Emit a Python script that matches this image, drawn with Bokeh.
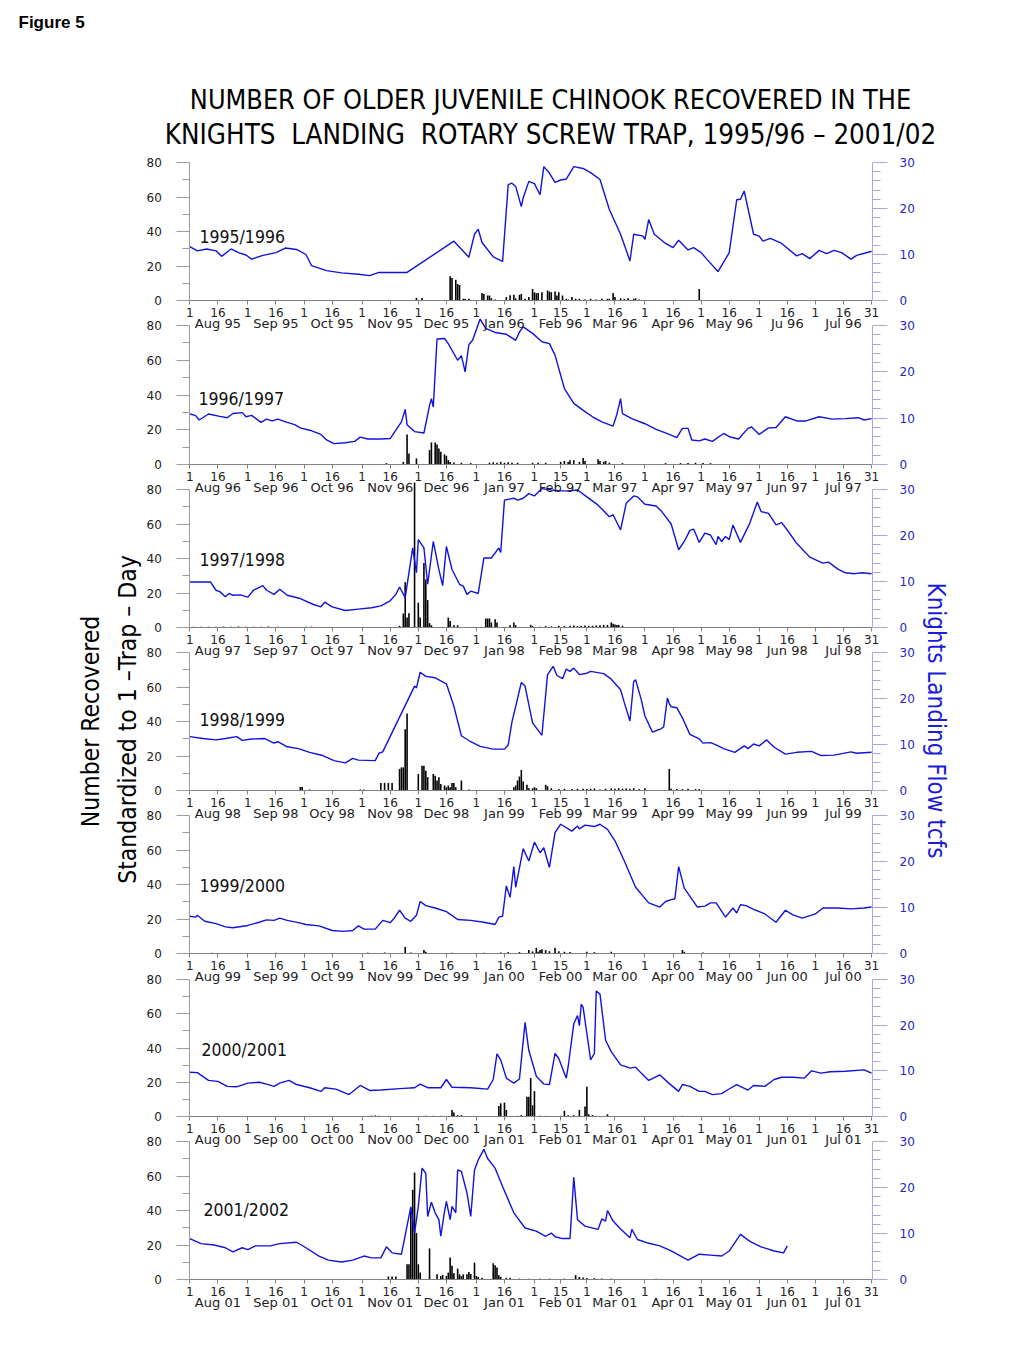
import math
from bokeh.plotting import figure
from bokeh.models import Range1d, LinearAxis, FixedTicker, Label
from bokeh.embed import file_html
from bokeh.resources import INLINE

# ---------------- data (day counted from Aug 1) ----------------
seasons = ["1995/1996", "1996/1997", "1997/1998", "1998/1999", "1999/2000", "2000/2001", "2001/2002"]

tick_days = [0, 15, 31, 46, 61, 76, 92, 107, 122, 137, 153, 168, 184, 198, 212, 227, 243, 258, 273, 288, 304, 319, 334, 349, 364]
tick_text = ["1", "16", "1", "16", "1", "16", "1", "16", "1", "16", "1", "16", "1", "15", "1", "16", "1", "16", "1", "16", "1", "16", "1", "16", "31"]
month_days = [15, 46, 76, 107, 137, 168, 198, 227, 258, 288, 319, 349]

months_9596 = ["Aug 95", "Sep 95", "Oct 95", "Nov 95", "Dec 95", "Jan 96", "Feb 96", "Mar 96", "Apr 96", "May 96", "Ju 96", "Jul 96"]
months_9697 = ["Aug 96", "Sep 96", "Oct 96", "Nov 96", "Dec 96", "Jan 97", "Feb 97", "Mar 97", "Apr 97", "May 97", "Jun 97", "Jul 97"]
months_9798 = ["Aug 97", "Sep 97", "Oct 97", "Nov 97", "Dec 97", "Jan 98", "Feb 98", "Mar 98", "Apr 98", "May 98", "Jun 98", "Jul 98"]
months_9899 = ["Aug 98", "Sep 98", "Ocy 98", "Nov 98", "Dec 98", "Jan 99", "Feb 99", "Mar 99", "Apr 99", "May 99", "Jun 99", "Jul 99"]
months_9900 = ["Aug 99", "Sep 99", "Oct 99", "Nov 99", "Dec 99", "Jan 00", "Feb 00", "Mar 00", "Apr 00", "May 00", "Jun 00", "Jul 00"]
months_0001 = ["Aug 00", "Sep 00", "Oct 00", "Nov 00", "Dec 00", "Jan 01", "Feb 01", "Mar 01", "Apr 01", "May 01", "Jun 01", "Jul 01"]
months_0102 = ["Aug 01", "Sep 01", "Oct 01", "Nov 01", "Dec 01", "Jan 01", "Feb 01", "Mar 01", "Apr 01", "May 01", "Jun 01", "Jul 01"]

# flow (thousand cfs): (day, flow)
flow_9596 = [(0,11.7),(4,10.8),(9,11.2),(14,10.8),(17,9.6),(22,11.2),(26,10.4),(30,9.9),(33,9.0),(39,9.8),(46,10.4),(51,11.4),(57,11.1),(62,10.0),(65,7.6),(73,6.5),(81,6.0),(90,5.7),(96,5.4),(101,6.1),(116,6.1),(141,12.9),(149,9.4),(152,14.4),(154,15.5),(156,12.6),(162,9.5),(167,8.5),(170,25.2),(172,25.5),(174,24.8),(177,20.4),(178,22.3),(181,25.9),(184,25.4),(187,23.0),(189,29.1),(192,27.7),(195,25.7),(198,26.2),(201,26.4),(205,29.1),(210,28.7),(214,27.8),(219,26.3),(224,19.8),(230,14.4),(235,8.6),(237,14.4),(242,14.0),(243,13.3),(245,17.6),(248,14.4),(254,12.4),(258,11.5),(261,13.1),(266,11.0),(269,11.5),(273,10.4),(276,9.0),(282,6.3),(288,10.4),(292,21.9),(294,22.0),(296,23.8),(301,14.4),(304,14.0),(306,12.9),(310,13.5),(316,12.4),(324,9.7),(327,10.2),(331,9.1),(336,10.9),(340,10.2),(344,10.9),(348,10.4),(353,9.0),(356,9.8),(364,10.7)]
flow_9697 = [(0,10.9),(3,10.6),(5,9.6),(10,10.9),(16,10.4),(20,10.1),(23,11.0),(28,11.2),(30,10.3),(33,10.6),(38,9.1),(41,9.8),(44,9.4),(47,9.8),(52,9.1),(56,8.6),(59,7.9),(64,7.4),(70,6.5),(73,5.3),(77,4.5),(83,4.7),(88,5.0),(91,5.9),(95,5.5),(102,5.5),(107,5.6),(110,7.4),(113,9.2),(115,11.9),(116,8.6),(120,7.1),(125,6.8),(128,12.7),(129,14.2),(130,12.4),(132,27.1),(136,27.2),(138,26.1),(143,22.5),(145,23.5),(147,20.0),(149,25.9),(151,26.8),(155,31.4),(158,29.4),(163,28.5),(169,28.1),(174,26.8),(176,28.6),(178,29.7),(183,28.3),(188,26.5),(192,26.1),(195,23.6),(200,16.4),(205,13.2),(211,11.4),(215,10.3),(220,9.2),(226,8.3),(228,10.8),(230,14.2),(231,11.0),(236,9.9),(243,8.8),(249,7.6),(256,6.5),(260,5.8),(263,7.8),(266,7.8),(268,5.3),(272,5.1),(275,5.5),(279,5.0),(285,6.7),(288,6.0),(293,5.5),(298,7.8),(300,8.1),(304,6.5),(309,7.9),(313,8.0),(318,10.3),(324,9.4),(329,9.4),(336,10.3),(343,9.8),(350,9.9),(357,10.1),(360,9.6),(364,9.9)]
flow_9798 = [(0,9.9),(11,9.9),(14,8.1),(16,7.8),(19,6.7),(21,7.4),(23,7.0),(27,7.1),(31,6.6),(34,8.1),(39,9.1),(41,8.1),(45,7.2),(48,8.3),(52,7.0),(59,6.3),(66,5.0),(70,4.5),(72,5.5),(76,4.5),(83,3.7),(90,4.0),(97,4.3),(102,4.7),(107,5.8),(110,7.2),(112,8.8),(115,6.5),(119,17.3),(121,11.9),(122,19.1),(125,17.3),(127,9.4),(130,18.7),(133,12.6),(135,9.1),(137,17.6),(140,12.6),(144,9.4),(146,9.0),(148,7.2),(150,7.9),(154,7.4),(157,15.1),(161,15.1),(165,17.3),(166,16.3),(168,27.7),(173,28.1),(175,27.7),(178,28.1),(181,29.1),(184,28.6),(188,30.2),(193,29.9),(198,29.7),(202,29.7),(207,29.9),(212,28.4),(218,26.6),(224,24.1),(226,24.5),(230,21.2),(233,27.0),(237,28.6),(239,28.4),(243,26.8),(249,26.4),(252,25.2),(257,22.5),(261,16.9),(264,18.7),(267,21.1),(269,21.4),(272,18.5),(275,20.5),(278,20.1),(281,18.0),(282,19.8),(284,18.7),(286,19.8),(288,19.1),(290,22.3),(294,18.5),(299,22.7),(303,27.3),(305,25.2),(309,24.8),(313,22.3),(316,22.8),(319,21.2),(324,18.3),(331,15.3),(338,14.0),(341,14.2),(346,12.7),(350,11.9),(355,11.7),(359,11.9),(364,11.7)]
flow_9899 = [(0,11.7),(7,11.3),(14,11.0),(19,11.3),(25,11.7),(28,10.9),(33,11.2),(40,11.3),(45,10.3),(47,10.6),(52,9.5),(58,9.1),(64,8.3),(71,7.6),(77,6.5),(83,6.0),(87,7.0),(90,6.6),(99,6.5),(101,8.1),(103,8.4),(120,22.7),(121,22.3),(123,25.7),(126,24.8),(131,24.5),(136,23.4),(137,23.2),(141,18.3),(145,11.9),(150,10.6),(155,9.6),(162,9.0),(168,9.0),(170,9.9),(172,14.9),(174,18.3),(177,23.5),(179,22.7),(183,14.7),(188,12.0),(191,25.2),(194,27.0),(196,25.0),(199,24.3),(201,26.4),(203,25.9),(205,26.6),(208,25.2),(212,25.5),(214,25.9),(221,25.4),(225,24.2),(230,21.9),(232,19.1),(235,15.1),(237,23.7),(238,24.1),(241,19.8),(243,16.2),(247,12.7),(250,13.2),(251,13.3),(253,13.8),(255,20.1),(256,18.9),(257,18.2),(260,18.0),(263,15.8),(267,12.2),(272,11.2),(274,10.3),(278,10.4),(281,9.9),(285,9.1),(291,8.3),(296,9.7),(298,9.1),(301,10.1),(304,9.7),(308,11.0),(312,9.4),(318,7.9),(324,8.3),(332,8.5),(337,7.6),(344,7.7),(353,8.4),(356,8.1),(364,8.3)]
flow_9900 = [(0,8.1),(3,7.9),(4,8.3),(8,7.0),(14,6.5),(19,5.8),(23,5.6),(31,6.1),(37,6.8),(41,7.3),(45,7.2),(48,7.7),(52,7.2),(58,6.7),(62,6.3),(69,6.0),(76,5.0),(82,4.8),(87,5.0),(90,6.0),(93,5.3),(99,5.3),(103,7.2),(107,6.7),(109,7.6),(112,9.4),(115,7.7),(118,7.0),(121,8.3),(123,11.3),(126,10.4),(131,9.9),(137,9.1),(143,7.4),(150,7.2),(157,6.8),(163,6.3),(165,7.9),(167,8.1),(169,14.7),(171,12.2),(173,18.9),(174,14.4),(178,22.8),(181,20.1),(184,24.2),(187,21.9),(189,23.0),(192,18.7),(195,26.3),(198,28.1),(204,26.6),(207,27.7),(208,27.1),(211,27.9),(216,27.6),(219,28.1),(223,27.0),(227,24.5),(232,20.1),(238,14.4),(245,11.0),(251,10.1),(254,11.3),(257,11.7),(259,11.9),(261,18.9),(264,14.2),(271,10.1),(275,10.3),(278,11.0),(281,11.0),(286,7.9),(290,9.9),(292,8.8),(294,10.6),(297,10.4),(301,9.6),(307,8.6),(313,6.8),(318,9.4),(322,8.4),(327,7.7),(334,8.6),(338,9.9),(346,9.9),(353,9.7),(360,9.9),(364,10.1)]
flow_0001 = [(0,9.7),(4,9.6),(10,7.9),(15,7.7),(20,6.6),(25,6.5),(31,7.3),(37,7.5),(41,7.1),(45,6.6),(48,7.3),(53,7.9),(57,7.0),(64,6.3),(70,5.5),(72,6.3),(78,6.0),(85,4.8),(91,6.8),(96,5.7),(102,5.8),(112,6.1),(120,6.3),(123,7.1),(127,6.3),(134,6.3),(137,8.1),(140,6.4),(150,6.3),(159,6.0),(162,8.1),(164,13.7),(166,12.4),(169,8.4),(173,7.3),(176,8.2),(179,20.6),(181,14.5),(185,8.8),(189,7.1),(192,7.0),(195,13.8),(197,12.7),(201,8.4),(202,10.9),(205,20.3),(207,22.1),(208,19.9),(209,24.6),(210,23.9),(214,12.4),(216,13.8),(217,27.5),(219,26.8),(222,16.7),(225,14.2),(230,11.3),(235,10.6),(238,10.8),(241,9.5),(245,7.9),(251,9.1),(256,7.2),(261,5.5),(263,7.0),(267,6.6),(272,5.5),(275,5.5),(279,4.8),(284,5.0),(287,5.8),(292,7.0),(298,5.8),(301,6.8),(307,6.6),(312,8.1),(316,8.6),(322,8.6),(328,8.4),(332,10.0),(337,9.5),(342,9.8),(350,9.9),(360,10.2),(364,9.5)]
flow_0102 = [(0,8.9),(6,7.8),(13,7.5),(19,6.9),(23,6.0),(28,6.9),(31,6.5),(35,7.3),(43,7.3),(48,7.8),(57,8.1),(62,6.9),(69,5.1),(74,4.2),(81,3.8),(87,4.2),(93,5.1),(97,4.7),(102,4.7),(105,7.1),(108,5.8),(113,5.5),(118,15.8),(120,10.1),(122,15.9),(124,24.2),(126,23.1),(127,13.7),(129,16.8),(131,14.5),(133,13.0),(134,9.4),(136,14.8),(137,17.0),(139,13.0),(140,15.9),(142,14.5),(143,23.8),(145,23.5),(148,18.8),(150,13.7),(152,23.8),(154,26.0),(157,28.3),(159,26.3),(163,24.2),(167,20.2),(173,14.5),(179,11.2),(185,10.5),(190,9.4),(193,10.1),(195,9.3),(199,8.9),(203,8.9),(205,22.2),(207,13.0),(211,11.6),(218,10.9),(220,13.2),(222,12.7),(223,15.0),(226,12.7),(230,11.0),(235,9.1),(236,10.9),(239,8.7),(244,8.0),(251,7.3),(257,6.2),(266,4.2),(272,5.5),(278,5.3),(284,5.1),(288,6.2),(294,9.8),(299,8.3),(305,7.1),(312,6.2),(317,5.8),(319,7.3)]

# fish recovered (standardized): (day, count)
fish_9596 = [(121,1.5),(124,1.5),(139,14),(140,13),(142,12),(143,9.5),(144,9),(146,1),(147,1),(149,1),(156,4.4),(157,3.8),(159,2.9),(160,2.9),(161,1.3),(163,0.6),(169,2),(171,3),(173,3.3),(174,1.3),(176,3.3),(177,3.8),(179,1),(181,2),(183,6.7),(184,4.8),(185,4.2),(186,4.4),(188,4.8),(191,5.8),(192,5.2),(193,4.8),(195,5.2),(196,2.9),(197,4.8),(199,2.9),(201,1),(202,0.6),(204,2),(206,1),(208,1),(211,0.6),(214,1),(217,0.6),(220,1),(223,1),(224,1),(226,4.4),(227,2),(230,1.3),(232,1),(234,1.3),(237,1),(238,1.3),(240,0.6),(272,6.7)]
fish_9697 = [(105,0.8),(114,1.5),(116,17.3),(117,6.3),(121,3.5),(128,8.3),(129,12.7),(131,12.7),(132,11.5),(133,9.2),(134,7.3),(136,5.8),(137,5),(138,2.5),(139,1.5),(141,1.2),(145,1),(150,0.8),(160,1),(162,1.3),(164,1),(166,1.5),(168,1),(170,1.3),(172,1),(175,1),(183,1),(186,1),(190,1),(198,1.5),(200,2),(202,1.5),(203,2.5),(205,2.5),(208,1.5),(210,3.8),(211,2),(218,3),(219,2),(221,1.5),(222,2),(224,1),(231,0.8),(254,0.8),(262,0.8),(266,0.8),(270,1),(274,0.8),(278,0.8)]
fish_9798 = [(2,0.5),(6,0.5),(10,0.5),(14,0.5),(18,0.6),(22,0.5),(26,0.6),(30,0.5),(34,0.5),(38,0.5),(42,0.6),(47,0.5),(62,0.5),(65,0.5),(112,1),(114,8.1),(115,26.3),(116,5.8),(117,8.3),(120,84),(122,14.4),(123,5.8),(125,37.4),(126,27.8),(127,15.9),(128,2.5),(129,1.3),(138,5.8),(139,3.8),(141,1.3),(143,1.3),(158,5.2),(159,5.2),(160,5.2),(161,2.9),(163,4.8),(164,2.9),(171,1.3),(173,2.9),(174,1.3),(182,1.5),(183,0.8),(187,0.5),(190,0.8),(193,0.6),(197,1),(200,0.8),(203,1),(205,1.2),(207,0.8),(209,1),(211,1.2),(213,1),(215,1),(217,1.2),(219,1.3),(221,1.5),(223,1.5),(225,2.9),(226,2.2),(227,1.8),(228,1.5),(229,1.5),(231,1)]
fish_9899 = [(59,2),(60,2),(64,0.6),(91,0.6),(93,0.6),(102,4.4),(104,4.4),(106,4.4),(108,4.4),(112,12.5),(113,13.4),(114,13.4),(115,35.5),(116,44.7),(122,9.6),(124,14.4),(125,14.4),(126,11.5),(127,7.7),(130,9.6),(131,8.6),(132,5.8),(133,7.7),(134,3.8),(136,2.9),(137,1.9),(138,2.9),(139,1.9),(140,4.4),(141,4.4),(142,1.9),(145,5.8),(149,0.6),(173,1.9),(174,2.9),(175,5.8),(176,8.1),(177,11.9),(178,5.2),(180,3.3),(181,1.3),(183,1.3),(184,1.9),(185,1.3),(190,3.3),(191,2.5),(193,1.3),(197,0.8),(200,1),(204,0.8),(207,1),(210,1),(212,0.8),(214,1),(216,1.2),(219,0.6),(222,1),(225,1.2),(227,1),(229,1.3),(231,1),(233,1.2),(235,1),(237,1.3),(240,0.8),(243,1.3),(256,12.5),(257,1),(260,1),(263,0.8),(266,1),(270,0.8),(272,0.8)]
fish_9900 = [(12,0.4),(46,0.4),(95,0.5),(104,0.6),(115,3.8),(118,0.6),(125,2),(126,1),(140,0.5),(157,0.5),(166,0.6),(170,0.8),(176,0.8),(181,2),(183,1.2),(185,3.3),(186,1),(187,2),(188,2.5),(190,2),(192,1.3),(195,3.3),(197,1.3),(200,1),(203,0.8),(212,1),(216,0.8),(225,1),(263,2),(264,1),(274,0.6)]
fish_0001 = [(97,0.5),(99,0.6),(101,0.5),(126,0.4),(130,0.4),(134,0.4),(140,3.8),(141,2.3),(143,0.8),(145,0.8),(165,6.1),(166,7.7),(168,8.1),(169,3.8),(175,0.4),(177,0.8),(180,11.5),(181,11.5),(182,22.5),(183,6.5),(184,14.8),(187,0.4),(190,0.4),(198,0.4),(200,3.3),(202,0.8),(205,0.8),(208,3.8),(211,5.8),(212,17.3),(213,1.3),(215,0.8),(223,1.3),(263,0.4)]
fish_0102 = [(106,1.7),(108,1.7),(110,1.7),(116,8.8),(117,8.8),(118,41.5),(119,52),(120,62),(121,27),(122,8.8),(123,4),(128,18),(132,3),(134,2),(135,2.7),(137,2),(138,4),(139,12.7),(140,7.9),(141,3.6),(143,6.3),(144,3),(145,2),(146,3),(148,3),(149,4.4),(150,3.2),(152,9.8),(153,2),(154,1.5),(156,1),(162,9.4),(163,8.3),(164,6.9),(165,2.5),(166,1.5),(169,1),(171,1),(176,0.5),(181,0.5),(187,0.5),(192,0.5),(200,0.5),(206,2.5),(208,1.5),(210,1.2),(212,0.8),(216,0.8),(220,0.6),(225,0.5),(249,0.4)]

flows = [flow_9596, flow_9697, flow_9798, flow_9899, flow_9900, flow_0001, flow_0102]
fishes = [fish_9596, fish_9697, fish_9798, fish_9899, fish_9900, fish_0001, fish_0102]
month_sets = [months_9596, months_9697, months_9798, months_9899, months_9900, months_0001, months_0102]

# ---------------- layout (page pixels) ----------------
W, H = 1008, 1325
M = 0
X0 = 189.3      # page x of Aug 1
PXD = 1.873     # pixels per day
X_RIGHT = 872.0
panel_tops = [162, 325, 489, 652, 815, 979, 1141]
panel_bots = [300, 464, 627, 790, 953, 1116, 1279]
season_label_y = [236, 398, 559, 719, 885, 1049, 1209]
season_label_x = [199, 198, 199, 199, 199, 201, 203]


def gx(px):
    return (px - X0) / PXD


def gy(py):
    return H - (py - M)


COND = "'DejaVu Sans Condensed', 'Liberation Sans Narrow', Roboto, sans-serif"
TICKF = "DejaVu Sans"
BLUE_LINE = "#1212dc"
BLUE_TXT = "#2626c8"
BLUE_AX = "#a8a8ec"
GRAY_AX = "#9c9c9c"

p = figure(width=W, height=H, output_backend="svg", toolbar_location=None, tools="",
           x_range=Range1d(gx(M), gx(M + W)), y_range=Range1d(0, H),
           x_axis_location=None, y_axis_location=None, min_border=0,
           outline_line_color=None, background_fill_color="white", border_fill_color="white")
p.grid.visible = False

extra = {}
for k in range(7):
    cb, ct = gy(panel_bots[k]), gy(panel_tops[k])
    sL = 80.0 / (ct - cb)
    sR = 30.0 / (ct - cb)
    extra[f"L{k}"] = Range1d(-cb * sL, (H - cb) * sL)
    extra[f"R{k}"] = Range1d(-cb * sR, (H - cb) * sR)
p.extra_y_ranges = extra

for k in range(7):
    # bars
    bd = [d for d, _ in fishes[k]]
    bv = [v for _, v in fishes[k]]
    p.vbar(x=bd, top=bv, bottom=0, width=0.85, y_range_name=f"L{k}",
           fill_color="black", line_color=None)
    # flow line
    fd = [d for d, _ in flows[k]]
    fv = [v for _, v in flows[k]]
    p.line(fd, fv, y_range_name=f"R{k}", line_color=BLUE_LINE, line_width=1.4)

    la = LinearAxis(y_range_name=f"L{k}", fixed_location=0, bounds=(0, 80),
                    ticker=FixedTicker(ticks=[0, 20, 40, 60, 80], minor_ticks=[10, 30, 50, 70]),
                    axis_line_color=GRAY_AX, major_tick_line_color=GRAY_AX, minor_tick_line_color=GRAY_AX,
                    major_tick_out=13, major_tick_in=0, minor_tick_out=7, minor_tick_in=0,
                    major_label_standoff=15, major_label_text_font=TICKF,
                    major_label_text_font_size="12px", major_label_text_color="#222222")
    p.add_layout(la, "left")

    ra = LinearAxis(y_range_name=f"R{k}", fixed_location=gx(X_RIGHT), bounds=(0, 30),
                    ticker=FixedTicker(ticks=[0, 10, 20, 30],
                                       minor_ticks=[2, 4, 6, 8, 12, 14, 16, 18, 22, 24, 26, 28]),
                    axis_line_color=BLUE_AX, major_tick_line_color=BLUE_AX, minor_tick_line_color=BLUE_AX,
                    major_tick_out=15, major_tick_in=0, minor_tick_out=8, minor_tick_in=0,
                    major_label_standoff=12, major_label_text_font=TICKF,
                    major_label_text_font_size="12px", major_label_text_color=BLUE_TXT)
    p.add_layout(ra, "right")

    ba = LinearAxis(fixed_location=gy(panel_bots[k]), bounds=(0, 364),
                    ticker=FixedTicker(ticks=tick_days, minor_ticks=[]),
                    major_label_overrides={d: t for d, t in zip(tick_days, tick_text)},
                    axis_line_color="#808080", major_tick_line_color="#808080",
                    major_tick_out=4, major_tick_in=0, major_label_standoff=3,
                    major_label_text_font=TICKF, major_label_text_font_size="12px",
                    major_label_text_color="#222222")
    p.add_layout(ba, "below")

    ma = LinearAxis(fixed_location=gy(panel_bots[k]), bounds=(0, 364),
                    ticker=FixedTicker(ticks=month_days, minor_ticks=[]),
                    major_label_overrides={d: t for d, t in zip(month_days, month_sets[k])},
                    axis_line_color=None, major_tick_line_color=None,
                    major_tick_out=0, major_tick_in=0, major_label_standoff=15,
                    major_label_text_font=TICKF, major_label_text_font_size="13px",
                    major_label_text_color="#222222")
    p.add_layout(ma, "below")

    p.add_layout(Label(x=gx(season_label_x[k]), y=gy(season_label_y[k]), text=seasons[k],
                       text_font=COND, text_font_size="17.5px", text_color="#111111",
                       text_align="left", text_baseline="middle"))

# header texts
p.add_layout(Label(x=gx(18), y=gy(22), text="Figure 5", text_font="Liberation Sans",
                   text_font_style="bold", text_font_size="17px", text_color="black",
                   text_align="left", text_baseline="middle"))
p.add_layout(Label(x=gx(550), y=gy(99), text="NUMBER OF OLDER JUVENILE CHINOOK RECOVERED IN THE",
                   text_font=COND, text_font_size="26.8px", text_color="black",
                   text_align="center", text_baseline="middle"))
p.add_layout(Label(x=gx(550), y=gy(133),
                   text="KNIGHTS\u00a0 LANDING\u00a0 ROTARY SCREW TRAP, 1995/96 \u2013 2001/02",
                   text_font=COND, text_font_size="27.5px", text_color="black",
                   text_align="center", text_baseline="middle"))

# side labels
p.add_layout(Label(x=gx(90), y=gy(721), text="Number Recovered", angle=math.pi / 2,
                   text_font=COND, text_font_size="24.5px", text_color="black",
                   text_align="center", text_baseline="middle"))
p.add_layout(Label(x=gx(127), y=gy(719), text="Standardized to 1 \u2013Trap \u2013 Day", angle=math.pi / 2,
                   text_font=COND, text_font_size="24.5px", text_color="black",
                   text_align="center", text_baseline="middle"))
p.add_layout(Label(x=gx(935), y=gy(720), text="Knights Landing Flow tcfs", angle=-math.pi / 2,
                   text_font=COND, text_font_size="24px", text_color="#1c1cd8",
                   text_align="center", text_baseline="middle"))

open("out.html", "w").write(file_html(p, INLINE))
